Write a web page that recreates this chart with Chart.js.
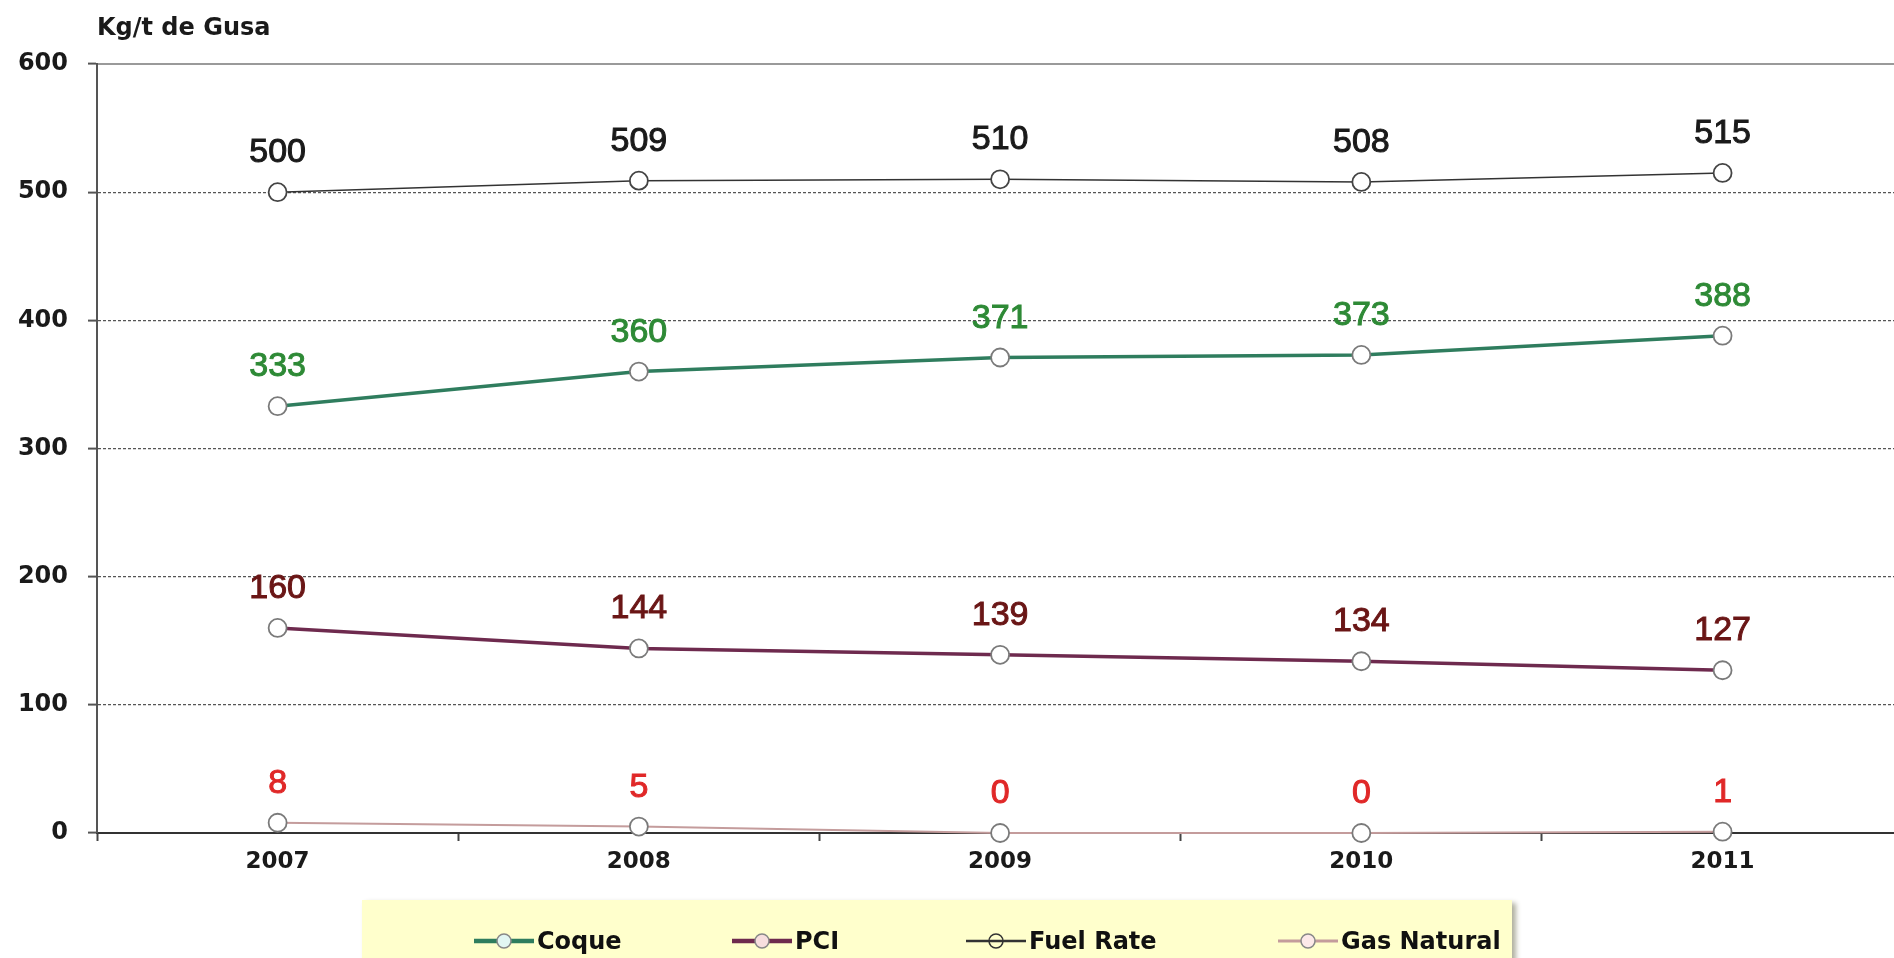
<!DOCTYPE html>
<html>
<head>
<meta charset="utf-8">
<script src="https://cdn.jsdelivr.net/npm/chart.js@4.4.1/dist/chart.umd.min.js"></script>
<style>
    body { margin: 0; background: #fff; overflow: hidden; width: 1894px; height: 958px; position: relative; }
    #chart { position: absolute; left: 0; top: 0; }
    #legend {
        position: absolute; left: 362px; top: 900px; width: 1150px; height: 80px;
        background: #ffffcc; box-shadow: 4px 3px 5px #b0b0a0;
        font-family: 'DejaVu Sans', sans-serif; font-weight: bold; font-size: 24px; color: #111;
    }
    .item { position: absolute; top: 28px; display: flex; align-items: center; height: 26px; }
    .item svg { margin-right: 3px; }
</style>
</head>
<body>
<canvas id="chart" width="1914" height="958"></canvas>
<div id="legend"></div>
<script>
// Data
const years = ['2007', '2008', '2009', '2010', '2011'];
const seriesNames = ['Coque', 'PCI', 'Fuel Rate', 'Gas Natural'];
const coque = [333, 360, 371, 373, 388];
const pci = [160, 144, 139, 134, 127];
const fuelRate = [500, 509, 510, 508, 515];
const gasNatural = [8, 5, 0, 0, 1];

// Styles
const lineColors = ['#2f7d5e', '#6e2a4e', '#333333', '#c49c9c'];
const lineWidths = [3.5, 3.5, 1.5, 2];
const labelColors = ['#2e8a36', '#6a1616', '#1a1a1a', '#e02828'];
const iconFills = ['#e2f6f2', '#f7dede', 'none', '#fde9e9'];
const legendLeft = [112, 370, 604, 916];

// Value labels drawn above every point
const valueLabels = {
    id: 'valueLabels',
    afterDatasetsDraw(chart) {
        const ctx = chart.ctx;
        chart.data.datasets.forEach((ds, i) => {
            const meta = chart.getDatasetMeta(i);
            ctx.save();
            ctx.font = '34px "Liberation Sans"';
            ctx.fillStyle = ds.labelColor;
            ctx.strokeStyle = ds.labelColor;
            ctx.lineWidth = 1;
            ctx.textAlign = 'center';
            ctx.textBaseline = 'alphabetic';
            meta.data.forEach((pt, j) => {
                const txt = String(ds.data[j]);
                ctx.fillText(txt, pt.x, pt.y - 30);
                ctx.strokeText(txt, pt.x, pt.y - 30);
            });
            ctx.restore();
        });
    }
};

function makeDataset(idx, values) {
    return {
        label: seriesNames[idx],
        data: values,
        borderColor: lineColors[idx],
        borderWidth: lineWidths[idx],
        pointRadius: 9,
        pointBackgroundColor: '#ffffff',
        pointBorderColor: idx === 2 ? '#444' : '#7a7a7a',
        pointBorderWidth: 1.8,
        tension: 0,
        clip: false,
        labelColor: labelColors[idx],
    };
}

const tickFont = { family: 'DejaVu Sans', weight: 'bold', size: 23 };

new Chart(document.getElementById('chart'), {
    type: 'line',
    data: {
        labels: years,
        datasets: [
            makeDataset(0, coque),
            makeDataset(1, pci),
            makeDataset(2, fuelRate),
            makeDataset(3, gasNatural),
        ]
    },
    options: {
        responsive: false,
        animation: false,
        layout: { padding: { left: 0, right: 4, top: 0, bottom: 0 } },
        plugins: {
            legend: { display: false },
            tooltip: { enabled: false },
        },
        scales: {
            x: {
                position: 'bottom',
                offset: true,
                grid: { offset: true, drawOnChartArea: false, drawTicks: true, tickLength: 8, tickColor: '#444', tickWidth: 2 },
                border: { color: '#333', width: 2 },
                ticks: { color: '#1a1a1a', font: tickFont, padding: 7 },
                afterFit(scale) { scale.height = 125; }
            },
            xTop: {
                position: 'top',
                offset: true,
                grid: { drawOnChartArea: false, drawTicks: false },
                border: { color: '#9a9a9a', width: 2 },
                ticks: { display: false },
                title: {
                    display: true,
                    text: 'Kg/t de Gusa',
                    align: 'start',
                    color: '#1a1a1a',
                    font: { family: 'DejaVu Sans', weight: 'bold', size: 24 },
                    padding: { top: 14, bottom: 0 }
                },
                afterFit(scale) { scale.height = 64; }
            },
            y: {
                min: 0,
                max: 600,
                ticks: { stepSize: 100, color: '#1a1a1a', font: { family: 'DejaVu Sans', weight: 'bold', size: 24 }, padding: 20 },
                grid: {
                    color: (c) => (c.tick && (c.tick.value === 0 || c.tick.value === 600)) ? 'rgba(0,0,0,0)' : '#555',
                    lineWidth: 1.2,
                    tickColor: '#555',
                    tickLength: 9,
                    tickWidth: 2,
                },
                border: { color: '#555', width: 2, dash: [3, 2] },
                afterFit(scale) { scale.width = 97; }
            }
        }
    },
    plugins: [valueLabels]
});

// HTML legend with line + marker icons
const legend = document.getElementById('legend');
seriesNames.forEach((name, i) => {
    const item = document.createElement('div');
    item.className = 'item';
    item.style.left = legendLeft[i] + 'px';
    const w = lineWidths[i] + 1;
    item.innerHTML =
        '<svg width="60" height="22" viewBox="0 0 60 22">' +
        '<line x1="0" y1="11" x2="60" y2="11" stroke="' + lineColors[i] + '" stroke-width="' + w + '"/>' +
        '<circle cx="30" cy="11" r="7" fill="' + iconFills[i] + '" stroke="' + (i === 2 ? '#333' : '#888') + '" stroke-width="1.5"/>' +
        '</svg><span>' + name + '</span>';
    legend.appendChild(item);
});
</script>
</body>
</html>
